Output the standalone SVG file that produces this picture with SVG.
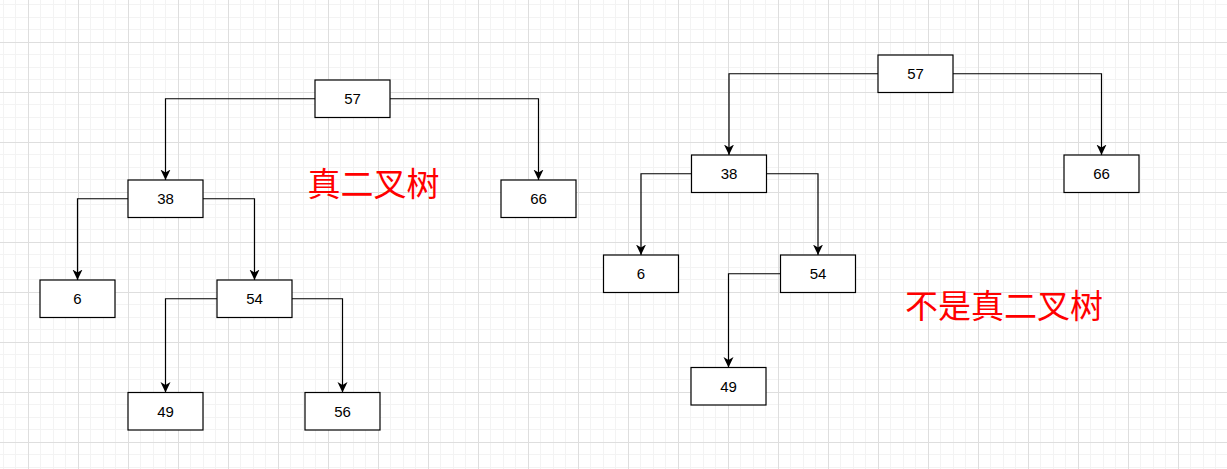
<svg xmlns="http://www.w3.org/2000/svg" width="1227" height="469" viewBox="0 0 1227 469">
<style>
.box{fill:#fff;stroke:#000;stroke-width:1.2}
.lbl{font-family:"Liberation Sans",Arial,sans-serif;font-size:15px;fill:#000;text-anchor:middle}
.edge{fill:none;stroke:#000;stroke-width:1.2}
.cn{font-family:"Noto Sans CJK SC",sans-serif;font-size:33px;fill:#ff0000;text-anchor:middle}
</style>
<defs>
<pattern id="grid" patternUnits="userSpaceOnUse" x="28" y="42" width="50" height="50">
<rect x="12" y="0" width="1" height="50" fill="#f3f3f3"/>
<rect x="25" y="0" width="1" height="50" fill="#f3f3f3"/>
<rect x="37" y="0" width="1" height="50" fill="#f3f3f3"/>
<rect x="0" y="12" width="50" height="1" fill="#f3f3f3"/>
<rect x="0" y="25" width="50" height="1" fill="#f3f3f3"/>
<rect x="0" y="37" width="50" height="1" fill="#f3f3f3"/>
<rect x="0" y="0" width="1" height="50" fill="#dedede"/>
<rect x="0" y="0" width="50" height="1" fill="#dedede"/>
</pattern>
<marker id="arr" markerUnits="userSpaceOnUse" markerWidth="12" markerHeight="12" refX="10.5" refY="5" orient="auto">
<path d="M0,0 L10.5,5 L0,10 L3,5 Z" fill="#000"/>
</marker>
</defs>
<rect width="1227" height="469" fill="#fff"/>
<rect width="1227" height="469" fill="url(#grid)"/>
<g id="connectors">
<path class="edge" marker-end="url(#arr)" d="M315,98.75 H165.5 V180"/>
<path class="edge" marker-end="url(#arr)" d="M390,98.75 H538.5 V180"/>
<path class="edge" marker-end="url(#arr)" d="M128,198.75 H77.5 V280"/>
<path class="edge" marker-end="url(#arr)" d="M203,198.75 H254.5 V280"/>
<path class="edge" marker-end="url(#arr)" d="M217,298.75 H165.5 V392.5"/>
<path class="edge" marker-end="url(#arr)" d="M292,298.75 H342.5 V392.5"/>
<path class="edge" marker-end="url(#arr)" d="M878,73.75 H729 V155"/>
<path class="edge" marker-end="url(#arr)" d="M953,73.75 H1101.5 V155"/>
<path class="edge" marker-end="url(#arr)" d="M691.5,173.75 H641 V255"/>
<path class="edge" marker-end="url(#arr)" d="M766.5,173.75 H818 V255"/>
<path class="edge" marker-end="url(#arr)" d="M780.5,273.75 H728.5 V367.5"/>
</g>
<g id="L57"><rect class="box" x="315" y="80" width="75" height="37.5"/><text class="lbl" x="352.5" y="104">57</text></g>
<g id="L38"><rect class="box" x="128" y="180" width="75" height="37.5"/><text class="lbl" x="165.5" y="204">38</text></g>
<g id="L66"><rect class="box" x="501" y="180" width="75" height="37.5"/><text class="lbl" x="538.5" y="204">66</text></g>
<g id="L6"><rect class="box" x="40" y="280" width="75" height="37.5"/><text class="lbl" x="77.5" y="304">6</text></g>
<g id="L54"><rect class="box" x="217" y="280" width="75" height="37.5"/><text class="lbl" x="254.5" y="304">54</text></g>
<g id="L49"><rect class="box" x="128" y="392.5" width="75" height="37.5"/><text class="lbl" x="165.5" y="416.5">49</text></g>
<g id="L56"><rect class="box" x="305" y="392.5" width="75" height="37.5"/><text class="lbl" x="342.5" y="416.5">56</text></g>
<g id="R57"><rect class="box" x="878" y="55" width="75" height="37.5"/><text class="lbl" x="915.5" y="79">57</text></g>
<g id="R66"><rect class="box" x="1064" y="155" width="75" height="37.5"/><text class="lbl" x="1101.5" y="179">66</text></g>
<g id="R38"><rect class="box" x="691.5" y="155" width="75" height="37.5"/><text class="lbl" x="729" y="179">38</text></g>
<g id="R6"><rect class="box" x="603.5" y="255" width="75" height="37.5"/><text class="lbl" x="641" y="279">6</text></g>
<g id="R54"><rect class="box" x="780.5" y="255" width="75" height="37.5"/><text class="lbl" x="818" y="279">54</text></g>
<g id="R49"><rect class="box" x="691" y="367.5" width="75" height="37.5"/><text class="lbl" x="728.5" y="391.5">49</text></g>
<g id="title1"><text class="cn" x="373.5" y="196">真二叉树</text></g>
<g id="title2"><text class="cn" x="1004" y="318">不是真二叉树</text></g>
</svg>
